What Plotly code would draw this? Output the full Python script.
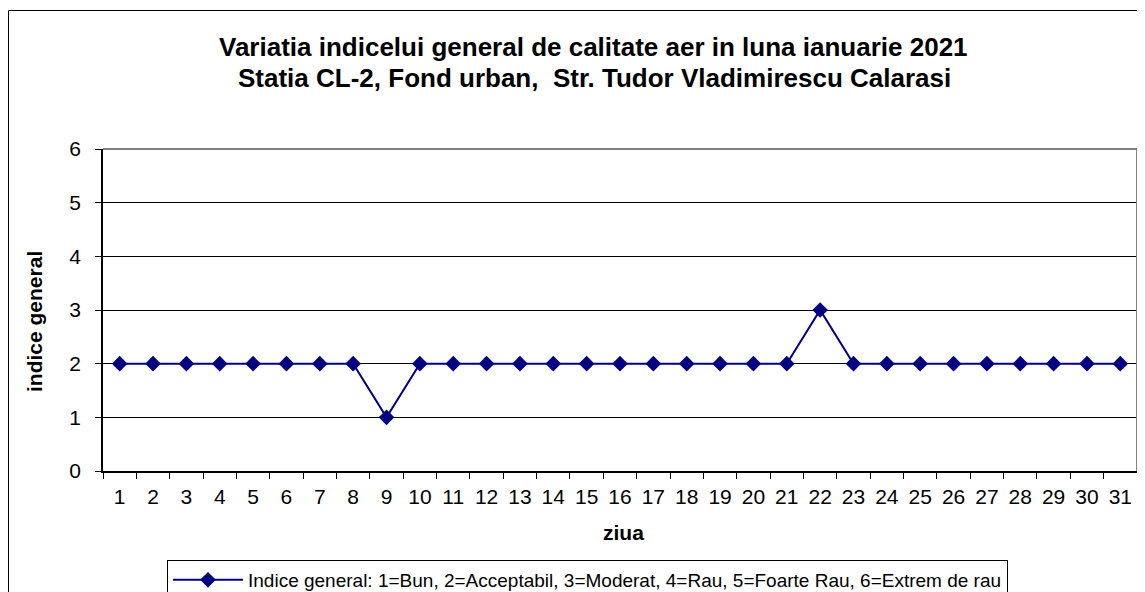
import plotly.graph_objects as go

# date: indicele general pe zile, ianuarie 2021
zile = list(range(1, 32))
indice = [2, 2, 2, 2, 2, 2, 2, 2, 1, 2,
          2, 2, 2, 2, 2, 2, 2, 2, 2, 2,
          2, 3, 2, 2, 2, 2, 2, 2, 2, 2, 2]
valori_y = [0, 1, 2, 3, 4, 5, 6]

FONT = "Liberation Sans, Arial, sans-serif"
BLEUMARIN = "#000080"

# pagina are o margine de 8px; figura efectiva are 1137px latime
OFF = 8
LATIME = 1137
INALTIME = 592
L, R, T, B = 95, 8, 141, 129
W = LATIME - L - R
H = INALTIME - T - B


def px_x(sx):
    # pozitie pe ecran -> coordonata paper
    return (sx - OFF - L) / W


def px_y(sy):
    return (INALTIME - B - (sy - OFF)) / H


fig = go.Figure()

fig.add_trace(go.Scatter(
    x=zile,
    y=indice,
    mode="lines+markers",
    name="Indice general: 1=Bun, 2=Acceptabil, 3=Moderat, 4=Rau, 5=Foarte Rau, 6=Extrem de rau",
    line=dict(color=BLEUMARIN, width=2),
    marker=dict(symbol="diamond", size=12, color=BLEUMARIN),
))

# cadrul exterior al graficului
fig.add_shape(type="rect", xref="paper", yref="paper",
              x0=px_x(8.5), x1=px_x(1160), y0=px_y(610), y1=px_y(10.5),
              line=dict(color="black", width=1))
# marginea de sus si dreapta a zonei de desen (gri)
fig.add_shape(type="line", xref="paper", yref="paper",
              x0=0, x1=1, y0=1, y1=1,
              line=dict(color="#808080", width=2))
fig.add_shape(type="line", xref="paper", yref="paper",
              x0=1, x1=1, y0=0, y1=1,
              line=dict(color="#808080", width=2))

# titlu pe doua randuri
fig.add_annotation(text="<b>Variatia indicelui general de calitate aer in luna ianuarie 2021</b>",
                   xref="paper", yref="paper", x=px_x(593), y=px_y(47),
                   xanchor="center", yanchor="middle", showarrow=False,
                   font=dict(family=FONT, size=26, color="black"))
fig.add_annotation(text="<b>Statia CL-2, Fond urban,  Str. Tudor Vladimirescu Calarasi</b>",
                   xref="paper", yref="paper", x=px_x(594), y=px_y(78),
                   xanchor="center", yanchor="middle", showarrow=False,
                   font=dict(family=FONT, size=26, color="black"))
# titlurile axelor
fig.add_annotation(text="<b>ziua</b>", xref="paper", yref="paper",
                   x=px_x(623), y=px_y(532), xanchor="center", yanchor="middle",
                   showarrow=False, font=dict(family=FONT, size=21, color="black"))
fig.add_annotation(text="<b>indice general</b>", xref="paper", yref="paper",
                   x=px_x(34), y=px_y(322), xanchor="center", yanchor="middle",
                   textangle=-90, showarrow=False,
                   font=dict(family=FONT, size=21, color="black"))

fig.update_layout(
    width=LATIME,
    height=INALTIME,
    margin=dict(l=L, r=R, t=T, b=B, autoexpand=False),
    paper_bgcolor="white",
    plot_bgcolor="white",
    font=dict(family=FONT, color="black", size=21),
    xaxis=dict(
        range=[0.5, 31.5],
        tickvals=zile,
        ticktext=[str(z) for z in zile],
        ticks="",
        showgrid=False,
        showline=True, linecolor="black", linewidth=1.5,
        zeroline=False,
        tickfont=dict(size=21),
        ticklabelstandoff=6,
        minor=dict(tick0=0.5, dtick=1, ticks="outside", ticklen=6,
                   tickcolor="black", showgrid=False),
        automargin=False,
        fixedrange=True,
    ),
    yaxis=dict(
        range=[0, 6],
        tickvals=valori_y,
        ticks="outside", ticklen=6, tickcolor="black",
        showgrid=True, gridcolor="black", gridwidth=1,
        showline=True, linecolor="black", linewidth=1.5,
        zeroline=False,
        tickfont=dict(size=21),
        ticklabelstandoff=10,
        automargin=False,
        fixedrange=True,
    ),
    showlegend=True,
    legend=dict(
        orientation="h",
        x=px_x(587.5), xanchor="center",
        y=px_y(560), yanchor="top",
        bordercolor="black", borderwidth=1,
        font=dict(size=19),
        itemwidth=70,
        tracegroupgap=0,
    ),
)

fig.write_html("out.html")
